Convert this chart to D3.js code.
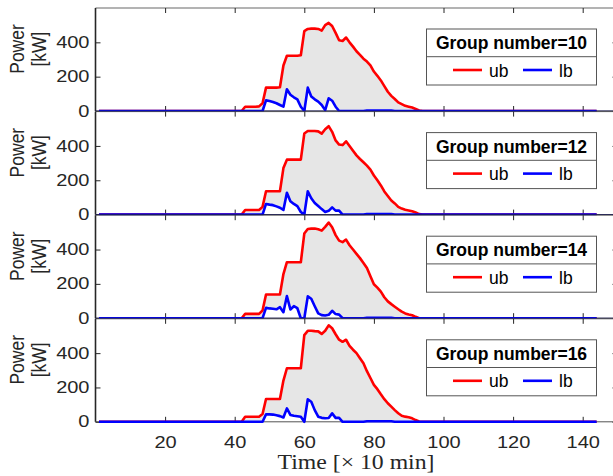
<!DOCTYPE html>
<html><head><meta charset="utf-8">
<script src="https://cdn.jsdelivr.net/npm/d3@7/dist/d3.min.js"></script>
<style>
body{margin:0;background:#fff;}
svg{display:block;font-family:"Liberation Sans",Arial,Helvetica,sans-serif;}
</style>
</head><body>
<svg id="c" width="613" height="476"></svg>
<script>
// time steps (x 10 min); zero outside 42..94
const time = [1,42,43,44,45,46,47,48,49,50,51,52,53,54,55,56,57,58,59,60,61,62,63,64,65,66,67,68,69,70,71,72,73,74,75,76,77,78,79,80,81,82,83,84,85,86,87,88,89,90,91,92,93,94,144];
const groupNumbers = [10,12,14,16];
const ub10 = [0, 0,25,25,25,25,27, 45, 136,136,136,136,138, 265, 322,322,322,322,325, 465,478,480,480,478,468,500,513,495,455, 412,408,428,400,375,348,327,305,288,266, 230,205,178,145,112,88,70,50,40,30, 25,20,12,3,0, 0];
const lb10 = [0, 0,0,0,0,0,0, 0, 62,58,52,45,35, 25, 127,95,80,68,25, 0,136,85,68,55,35,5,74,60,25, 0,0,0,0,0,0,0,0,3,3, 3,3,3,3,3,3,0,0,0,0, 0,0,0,0,0, 0];
const ub12 = [0, 0,27,27,27,27,27, 45, 136,136,136,136,136, 271, 320,320,320,320,320, 472,487,487,487,485,472,497,515,482,432, 408,405,427,400,372,345,324,305,285,262, 228,200,170,135,108,82,65,45,35,28, 24,20,12,3,0, 0];
const lb12 = [0, 0,0,0,0,0,0, 0, 62,58,55,48,40, 27, 127,78,62,49,15, 0,136,95,68,50,32,15,22,42,23, 23,0,0,0,0,0,0,0,3,3, 3,3,3,3,3,3,0,0,0,0, 0,0,0,0,0, 0];
const ub14 = [0, 0,25,25,25,25,25, 45, 138,138,138,138,138, 257, 326,326,326,326,326, 493,520,522,522,518,510,532,557,530,484, 452,443,458,425,400,375,350,322,292,245, 198,178,155,122,98,82,67,52,38,28, 22,17,8,0,0, 0];
const lb14 = [0, 0,0,0,0,0,0, 0, 60,57,55,52,64, 35, 129,51,70,58,0, 0,127,113,70,28,18,16,20,43,24, 21,0,0,0,0,0,0,0,3,3, 3,3,3,3,3,3,0,0,0,0, 0,0,0,0,0, 0];
const ub16 = [0, 0,29,29,29,29,29, 45, 133,133,133,133,133, 240, 312,312,312,312,312, 505,530,530,528,527,512,530,562,545,510, 478,466,478,442,420,400,370,341,295,255, 215,190,160,132,108,88,68,50,35,30, 26,20,10,2,0, 0];
const lb16 = [0, 0,0,0,0,0,0, 0, 43,43,42,38,33, 25, 78,40,35,32,29, 0,131,117,68,30,23,21,22,49,23, 23,0,0,0,0,0,0,0,3,3, 3,3,3,3,3,3,0,0,0,0, 0,0,0,0,0, 0];
const xTicks = [20,40,60,80,100,120,140];
const yTicks = [0,200,400];
const seriesNames = ["ub","lb"];

const ubs = [ub10,ub12,ub14,ub16];
const lbs = [lb10,lb12,lb14,lb16];

const svg = d3.select("#c");
const x = d3.scaleLinear().domain([0,150]).range([95.5,617.5]);
const top0 = 8, step = 103.6, ph = 103;
const axisCol = "#262626";
const sx = 1.25; // horizontal stretch of the reference tick text

groupNumbers.forEach((gn, i) => {
  const top = top0 + i*step, bot = top + ph;
  const y = d3.scaleLinear().domain([0,600]).range([bot, top]);
  const g = svg.append("g");
  g.append("rect").attr("x", x(0)).attr("y", top).attr("width", x(150)-x(0)).attr("height", ph).attr("fill", "#fff");

  // box lines
  g.append("line").attr("x1", x(0)).attr("x2", x(150)).attr("y1", top).attr("y2", top).attr("stroke", axisCol).attr("stroke-width", 0.7);
  g.append("line").attr("x1", x(0)).attr("x2", x(150)).attr("y1", bot).attr("y2", bot).attr("stroke", axisCol).attr("stroke-width", 0.8);
  g.append("line").attr("x1", x(0)).attr("x2", x(0)).attr("y1", top).attr("y2", bot).attr("stroke", axisCol).attr("stroke-width", 1.6);

  // ticks
  const xb = d3.axisBottom(x).tickValues(xTicks).tickSize(-5).tickPadding(14.5);
  if (i < 3) xb.tickFormat("");
  const xbg = g.append("g").attr("transform", `translate(0,${bot})`).call(xb);
  const xtg = g.append("g").attr("transform", `translate(0,${top})`).call(d3.axisTop(x).tickValues(xTicks).tickSize(-5).tickFormat(""));
  const ylg = g.append("g").attr("transform", `translate(${x(0)},0)`).call(d3.axisLeft(y).tickValues(yTicks).tickSize(-5).tickPadding(6));
  const yrg = g.append("g").attr("transform", `translate(${x(150)},0)`).call(d3.axisRight(y).tickValues(yTicks).tickSize(-5).tickFormat(""));
  [xbg,xtg,ylg,yrg].forEach(a => {
    a.select(".domain").remove();
    a.selectAll(".tick line").attr("stroke", axisCol).attr("stroke-width", 1);
    a.selectAll("text").attr("fill", axisCol).attr("font-size", 16).attr("font-family", "Liberation Sans, Arial, sans-serif");
  });
  xbg.selectAll("text").attr("transform", `scale(${sx},1)`);
  ylg.selectAll("text").attr("x", 0).attr("transform", `translate(-6,0) scale(${sx},1)`);

  // band between lb and ub
  const pts = time.map((t, k) => ({t, u: ubs[i][k], l: lbs[i][k]}));
  g.append("path").datum(pts)
    .attr("d", d3.area().x(d => x(d.t)).y0(d => y(d.l)).y1(d => y(d.u)))
    .attr("fill", "#e6e6e6");
  g.append("path").datum(pts)
    .attr("d", d3.line().x(d => x(d.t)).y(d => y(d.u)))
    .attr("fill", "none").attr("stroke", "#ff0000").attr("stroke-width", 2.6).attr("stroke-linejoin", "round");
  g.append("path").datum(pts)
    .attr("d", d3.line().x(d => x(d.t)).y(d => y(d.l)))
    .attr("fill", "none").attr("stroke", "#0000ff").attr("stroke-width", 2.6).attr("stroke-linejoin", "round");
  if (i < 3) {
    g.append("line").attr("x1", x(0)).attr("x2", x(150)).attr("y1", bot).attr("y2", bot)
      .attr("stroke", "#1a1a66").attr("stroke-width", 1).attr("stroke-opacity", 0.8);
  }

  // y label
  const yl = g.append("text").attr("transform", `translate(24,${top+41}) scale(1.12,1) rotate(-90)`)
    .attr("text-anchor", "middle").attr("fill", axisCol).attr("font-size", 17.5);
  yl.append("tspan").attr("x", 0).attr("y", 0).text("Power");
  yl.append("tspan").attr("x", 0).attr("y", 19.5).text("[kW]");

  // legend
  const lx0 = 426.5, lx1 = 596.5, ly0 = top + 21, ly1 = top + 77, ldiv = top + 48.7;
  const lg = g.append("g");
  lg.append("rect").attr("x", lx0).attr("y", ly0).attr("width", lx1-lx0).attr("height", ly1-ly0)
    .attr("fill", "#fff").attr("stroke", "#555").attr("stroke-width", 1);
  lg.append("line").attr("x1", lx0).attr("x2", lx1).attr("y1", ldiv).attr("y2", ldiv).attr("stroke", "#555").attr("stroke-width", 1);
  lg.append("text").attr("x", (lx0+lx1)/2).attr("y", top + 41).attr("text-anchor", "middle")
    .attr("font-weight", "bold").attr("font-size", 17.5).attr("fill", "#000").text(`Group number=${gn}`);
  const items = [{name: seriesNames[0], col: "#ff0000", x0: 453}, {name: seriesNames[1], col: "#0000ff", x0: 523}];
  items.forEach(it => {
    lg.append("line").attr("x1", it.x0).attr("x2", it.x0 + 29).attr("y1", top + 62).attr("y2", top + 62)
      .attr("stroke", it.col).attr("stroke-width", 2.6);
    lg.append("text").attr("x", it.x0 + 36).attr("y", top + 68.5).attr("font-size", 17.5).attr("fill", "#000").text(it.name);
  });
});

// x label
svg.append("text").attr("x", 356).attr("y", 469).attr("text-anchor", "middle")
  .attr("font-family", "Liberation Serif, Times New Roman, serif").attr("font-size", 20)
  .attr("textLength", 157).attr("lengthAdjust", "spacingAndGlyphs")
  .attr("fill", axisCol).text("Time [× 10 min]");
</script>
</body></html>
